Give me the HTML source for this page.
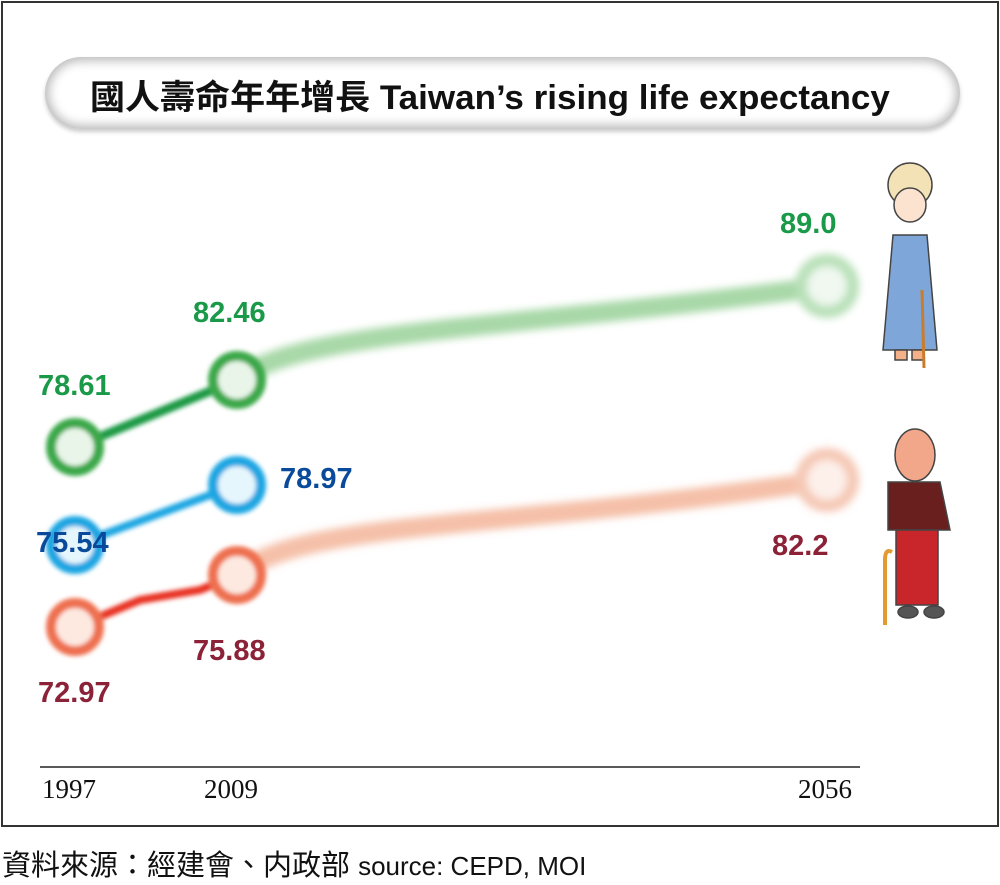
<!DOCTYPE html>
<html><head><meta charset="utf-8"><style>
body{margin:0;background:#fff;width:1000px;height:885px;overflow:hidden;position:relative;font-family:"Liberation Sans","Noto Sans CJK TC",sans-serif}
.frame{position:absolute;left:1px;top:1px;width:994px;height:822px;border:2px solid #333}
.title{position:absolute;left:45px;top:57px;width:915px;height:72px;border-radius:36px;background:#fff;box-shadow:inset 0 0 10px 4px #bbb,0 3px 4px #ccc}
.title span{position:absolute;left:45px;top:13px;font-size:34px;font-weight:bold;color:#111;white-space:nowrap;transform:scaleX(1.03);transform-origin:left}
.lab{position:absolute;font-size:29px;font-weight:bold}
.g{color:#1a9a48}.b{color:#0a4a9a}.r{color:#8c2238}
.yr{position:absolute;top:774px;font-family:"Liberation Serif",serif;font-size:27px;color:#111}
.src{position:absolute;left:2px;top:842px;font-size:29px;color:#111;white-space:nowrap}
</style></head><body>
<div class="frame"></div>
<div class="title"><span>國人壽命年年增長 Taiwan’s rising life expectancy</span></div>
<svg width="1000" height="885" style="position:absolute;left:0;top:0">
<defs><filter id="bl"><feGaussianBlur stdDeviation="2"/></filter><filter id="bl2"><feGaussianBlur stdDeviation="4"/></filter></defs>
<g filter="url(#bl2)">
<path d="M237 380 C300 330 500 330 827 286" stroke="#a8d8a8" stroke-width="20" fill="none"/>
<path d="M237 575 C300 520 500 530 827 480" stroke="#f5c0a8" stroke-width="20" fill="none"/>
<circle cx="827" cy="286" r="26" fill="#f0f8f0" stroke="#b8e0b8" stroke-width="12"/>
<circle cx="827" cy="480" r="26" fill="#fdf0ea" stroke="#f5c8b5" stroke-width="12"/>
</g>
<g filter="url(#bl)">
<line x1="75" y1="447" x2="237" y2="380" stroke="#1b9a45" stroke-width="9"/>
<line x1="75" y1="545" x2="237" y2="485" stroke="#1aa6e2" stroke-width="8"/>
<path d="M75 627 L140 600 L200 590 L237 575" stroke="#e83020" stroke-width="8" fill="none"/>
<circle cx="75" cy="447" r="24" fill="#e8f5e8" stroke="#3aa84a" stroke-width="10"/>
<circle cx="237" cy="380" r="24" fill="#e8f5e8" stroke="#3aa84a" stroke-width="10"/>
<circle cx="75" cy="545" r="24" fill="#e6f6fd" stroke="#1aa6e2" stroke-width="10"/>
<circle cx="237" cy="485" r="24" fill="#e6f6fd" stroke="#1aa6e2" stroke-width="10"/>
<circle cx="75" cy="627" r="24" fill="#fde9e0" stroke="#ee7050" stroke-width="10"/>
<circle cx="237" cy="575" r="24" fill="#fde9e0" stroke="#ee7050" stroke-width="10"/>
</g>
<line x1="40" y1="767" x2="860" y2="767" stroke="#222" stroke-width="1.5"/>
<g stroke="#444" stroke-width="1.5">
<ellipse cx="910" cy="185" rx="22" ry="22" fill="#f3e2b5"/>
<ellipse cx="910" cy="205" rx="16" ry="17" fill="#fbe3cf"/>
<path d="M893 235 L927 235 L937 350 L883 350 Z" fill="#7fa6d8"/>
<rect x="895" y="350" width="12" height="10" fill="#f4b088"/>
<rect x="912" y="350" width="12" height="10" fill="#f4b088"/>
<line x1="922" y1="290" x2="924" y2="368" stroke="#c97c2c" stroke-width="3"/>
</g>
<g stroke="#444" stroke-width="1.5">
<ellipse cx="915" cy="455" rx="20" ry="26" fill="#f2a68a"/>
<path d="M888 482 L940 482 L950 530 L888 530 Z" fill="#6a1f1f"/>
<rect x="896" y="530" width="42" height="75" fill="#c8262b"/>
<ellipse cx="908" cy="612" rx="10" ry="6" fill="#555"/>
<ellipse cx="934" cy="612" rx="10" ry="6" fill="#555"/>
<path d="M885 625 L885 560 Q885 548 892 552" stroke="#e39a30" stroke-width="4" fill="none"/>
</g>
</svg>
<div class="lab g" style="left:780px;top:208px">89.0</div>
<div class="lab g" style="left:193px;top:297px">82.46</div>
<div class="lab g" style="left:38px;top:370px">78.61</div>
<div class="lab b" style="left:280px;top:463px">78.97</div>
<div class="lab b" style="left:36px;top:527px">75.54</div>
<div class="lab r" style="left:772px;top:530px">82.2</div>
<div class="lab r" style="left:193px;top:635px">75.88</div>
<div class="lab r" style="left:38px;top:677px">72.97</div>
<div class="yr" style="left:42px">1997</div>
<div class="yr" style="left:204px">2009</div>
<div class="yr" style="left:798px">2056</div>
<div class="src">資料來源：經建會、内政部 <span style="font-size:26px">source: CEPD, MOI</span></div>
</body></html>
